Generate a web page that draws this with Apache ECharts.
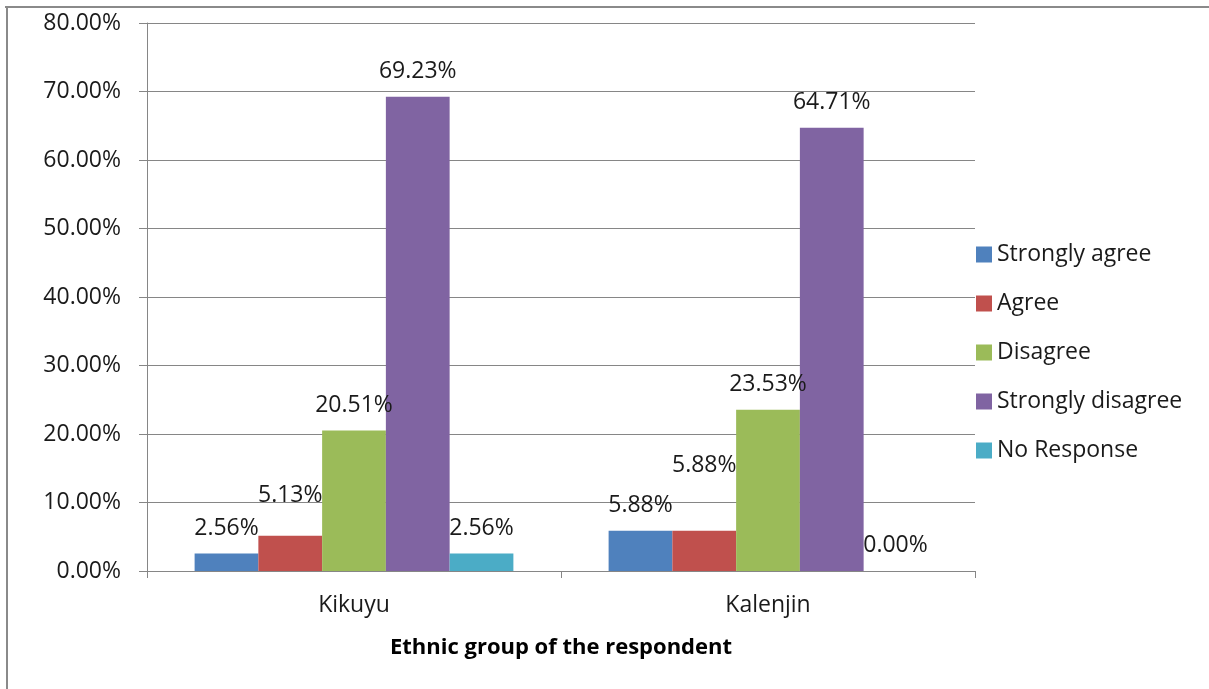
<!DOCTYPE html>
<html>
<head>
<meta charset="utf-8">
<script src="https://cdn.jsdelivr.net/npm/echarts@6/dist/echarts.min.js"></script>
<style>
  html, body { margin: 0; padding: 0; background: #ffffff; }
  #chart { width: 1209px; height: 689px; }
</style>
</head>
<body>
<div id="chart"></div>
<script>
// Ethnic groups on the category axis
const categories = ['Kikuyu', 'Kalenjin'];

// Share of respondents (%) per response, one value per ethnic group
const stronglyAgree = [2.56, 5.88];
const agree = [5.13, 5.88];
const disagree = [20.51, 23.53];
const stronglyDisagree = [69.23, 64.71];
const noResponse = [2.56, 0.00];

const seriesNames = ['Strongly agree', 'Agree', 'Disagree', 'Strongly disagree', 'No Response'];
const seriesValues = [stronglyAgree, agree, disagree, stronglyDisagree, noResponse];
const seriesColors = ['#4F81BD', '#C0504D', '#9BBB59', '#8064A2', '#4BACC6'];

const FONT = '"Open Sans", "Liberation Sans", sans-serif';
const TEXT_SIZE = 23;

// Extra lift for labels that would otherwise collide with a neighbour's
const labelLift = { 'Agree': [29, 54] };

const series = seriesNames.map((name, si) => ({
  name: name,
  type: 'bar',
  barGap: '0%',
  barCategoryGap: '23%',
  itemStyle: { color: seriesColors[si] },
  label: {
    show: true,
    position: 'top',
    distance: 14,
    fontFamily: FONT,
    fontSize: TEXT_SIZE,
    color: '#1a1a1a',
    formatter: p => p.value.toFixed(2) + '%'
  },
  data: seriesValues[si].map((v, ci) => {
    const lift = labelLift[name];
    return lift ? { value: v, label: { distance: lift[ci] } } : v;
  })
}));

const chart = echarts.init(document.getElementById('chart'), null, { renderer: 'canvas' });
chart.setOption({
  animation: false,
  backgroundColor: '#ffffff',
  grid: { left: 147, right: 234, top: 23, bottom: 118, containLabel: false },
  legend: {
    orient: 'vertical',
    left: 976,
    top: 243,
    padding: 0,
    itemWidth: 16,
    itemHeight: 16,
    itemGap: 26,
    icon: 'rect',
    data: seriesNames,
    textStyle: { fontFamily: FONT, fontSize: TEXT_SIZE, color: '#1a1a1a' }
  },
  xAxis: {
    type: 'category',
    data: categories,
    name: 'Ethnic group of the respondent',
    nameLocation: 'middle',
    nameGap: 66,
    nameTextStyle: { fontFamily: FONT, fontSize: 22, fontWeight: 'bold', color: '#000000' },
    axisLine: { lineStyle: { color: '#868686', width: 1 } },
    axisTick: { show: true, length: 7, lineStyle: { color: '#868686' } },
    axisLabel: { fontFamily: FONT, fontSize: TEXT_SIZE, color: '#1a1a1a', margin: 23 }
  },
  yAxis: {
    type: 'value',
    min: 0,
    max: 80,
    interval: 10,
    axisLine: { show: true, lineStyle: { color: '#868686', width: 1 } },
    axisTick: { show: true, length: 8, lineStyle: { color: '#868686' } },
    splitLine: { lineStyle: { color: '#868686', width: 1 } },
    axisLabel: {
      fontFamily: FONT, fontSize: TEXT_SIZE, color: '#1a1a1a', margin: 26,
      formatter: v => v.toFixed(2) + '%'
    }
  },
  graphic: [
    { type: 'line', shape: { x1: 5, y1: 7, x2: 1209, y2: 7 }, style: { stroke: '#8a8a8a', lineWidth: 2 } },
    { type: 'line', shape: { x1: 7, y1: 6, x2: 7, y2: 689 }, style: { stroke: '#8a8a8a', lineWidth: 2 } }
  ],
  series: series
});
</script>
</body>
</html>
